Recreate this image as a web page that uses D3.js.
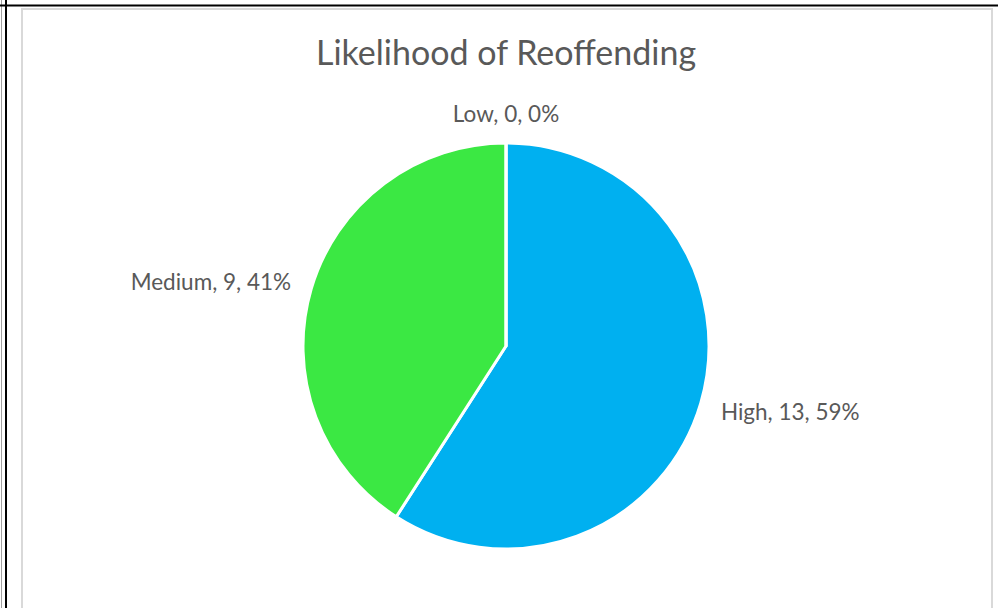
<!DOCTYPE html>
<html>
<head>
<meta charset="utf-8">
<script src="https://cdn.jsdelivr.net/npm/d3@7"></script>
<style>
  html, body { margin: 0; padding: 0; background: #fff; }
  svg { display: block; font-family: Lato, "Open Sans", sans-serif; }
</style>
</head>
<body>
<div id="chart"></div>
<script>
// data
const categories = ['High', 'Medium', 'Low'];
const counts = [13, 9, 0];
const sliceColors = ['#00b0f0', '#3be843', '#a5a5a5'];
const chartTitle = 'Likelihood of Reoffending';

const width = 1007, height = 608;

const svg = d3.select('#chart')
    .append('svg')
    .attr('width', width)
    .attr('height', height);

// surrounding sheet lines
svg.append('line').attr('x1', 1.5).attr('x2', 1.5).attr('y1', 0).attr('y2', height)
    .attr('stroke', '#a0a0a0').attr('stroke-width', 1);
svg.append('line').attr('x1', 6).attr('x2', 6).attr('y1', 0).attr('y2', height)
    .attr('stroke', '#000').attr('stroke-width', 2);
svg.append('line').attr('x1', 0).attr('x2', 998).attr('y1', 5.5).attr('y2', 5.5)
    .attr('stroke', '#000').attr('stroke-width', 2);

// chart area
svg.append('rect')
    .attr('x', 22).attr('y', 9)
    .attr('width', 970).attr('height', 620)
    .attr('fill', '#fff')
    .attr('stroke', '#d9d9d9')
    .attr('stroke-width', 2);

svg.append('text')
    .attr('x', 506).attr('y', 65)
    .attr('text-anchor', 'middle')
    .attr('fill', '#595959')
    .style('font-size', '34px')
    .text(chartTitle);

const cx = 506, cy = 346, radius = 203;
const total = d3.sum(counts);
const data = categories.map((c, i) => ({name: c, value: counts[i], color: sliceColors[i]}));

const pie = d3.pie().sort(null).value(d => d.value);
const arc = d3.arc().innerRadius(0).outerRadius(radius);
const labelRadius = 224;

const g = svg.append('g').attr('transform', `translate(${cx},${cy})`);

g.selectAll('.slice')
    .data(pie(data))
    .join('path')
    .attr('class', 'slice')
    .attr('d', arc)
    .attr('fill', d => d.data.color)
    .attr('stroke', '#fff')
    .attr('stroke-width', 3)
    .attr('stroke-linejoin', 'round');

g.selectAll('.label')
    .data(pie(data))
    .join('text')
    .attr('class', 'label')
    .each(function(d) {
        const a = (d.startAngle + d.endAngle) / 2;
        const s = Math.sin(a), c = Math.cos(a);
        const t = d3.select(this)
            .attr('x', labelRadius * s)
            .attr('y', -labelRadius * c);
        if (s > 0.1) t.attr('text-anchor', 'start').attr('dy', '0.5em');
        else if (s < -0.1) t.attr('text-anchor', 'end').attr('dy', '0.3em');
        else t.attr('text-anchor', 'middle').attr('dy', c > 0 ? '0' : '0.9em');
    })
    .attr('fill', '#595959')
    .style('font-size', '22.5px')
    .text(d => `${d.data.name}, ${d.data.value}, ${Math.round(d.data.value / total * 100)}%`);
</script>
</body>
</html>
